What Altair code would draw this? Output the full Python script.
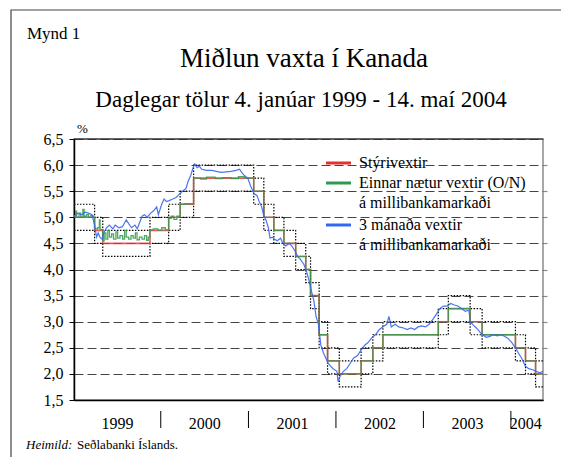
import altair as alt
import pandas as pd

FONT = "Liberation Serif"
W, H = 469, 261

# --- Policy rate (Stýrivextir): change dates and levels (step-after) ---
target_dates = ["1999-01-04", "1999-03-31", "1999-05-04", "1999-11-17", "2000-02-03",
                "2000-03-22", "2000-05-17", "2001-01-23", "2001-03-06", "2001-04-17",
                "2001-05-29", "2001-07-17", "2001-08-28", "2001-09-17", "2001-10-23",
                "2001-11-27", "2002-01-15", "2002-04-16", "2002-06-04", "2002-07-16",
                "2003-03-04", "2003-04-15", "2003-07-15", "2003-09-03", "2004-01-20",
                "2004-03-02", "2004-04-13", "2004-05-14"]
target_vals = [5.00, 4.75, 4.50, 4.75, 5.00, 5.25, 5.75, 5.50, 5.00, 4.75,
               4.50, 4.25, 4.00, 3.50, 2.75, 2.25, 2.00, 2.25, 2.50, 2.75,
               3.00, 3.25, 3.00, 2.75, 2.50, 2.25, 2.00, 2.00]
band_upper = [5.25, 5.00, 4.75, 5.00, 5.25, 5.50, 6.00, 5.75, 5.25, 5.00,
              4.75, 4.50, 4.25, 3.75, 3.00, 2.50, 2.25, 2.50, 2.75, 3.00,
              3.25, 3.50, 3.25, 3.00, 2.75, 2.50, 2.25, 2.25]
band_lower = [4.75, 4.50, 4.25, 4.50, 4.75, 5.00, 5.50, 5.25, 4.75, 4.50,
              4.25, 4.00, 3.75, 3.25, 2.50, 2.00, 1.75, 2.00, 2.25, 2.50,
              2.75, 3.00, 2.75, 2.50, 2.25, 2.00, 1.75, 1.75]

# --- Overnight rate (O/N) ---
on_dates = ["1999-01-04", "1999-01-11", "1999-01-15", "1999-01-25", "1999-02-01",
            "1999-02-10", "1999-02-15", "1999-02-25", "1999-03-05", "1999-03-15",
            "1999-03-25", "1999-03-31", "1999-04-12", "1999-04-20", "1999-04-23",
            "1999-05-04", "1999-05-10", "1999-05-17", "1999-05-25", "1999-06-01",
            "1999-06-10", "1999-06-18", "1999-06-28", "1999-07-05", "1999-07-15",
            "1999-07-26", "1999-08-03", "1999-08-10", "1999-08-20", "1999-08-30",
            "1999-09-08", "1999-09-17", "1999-09-24", "1999-10-04", "1999-10-15",
            "1999-10-25", "1999-11-03", "1999-11-10", "1999-11-17", "1999-12-01",
            "1999-12-20", "2000-01-05", "2000-01-20", "2000-02-03", "2000-02-14",
            "2000-02-25", "2000-03-08", "2000-03-22", "2000-04-10", "2000-05-17",
            "2000-06-15", "2000-07-10", "2000-08-15", "2000-09-15", "2000-10-20",
            "2000-11-20", "2000-12-15", "2001-01-23", "2001-03-06", "2001-04-17",
            "2001-05-29", "2001-07-17", "2001-08-28", "2001-09-17", "2001-10-23",
            "2001-11-27", "2002-01-15", "2002-04-16", "2002-06-04", "2002-07-16",
            "2003-03-04", "2003-04-15", "2003-07-15", "2003-09-03", "2004-01-20",
            "2004-03-02", "2004-04-13", "2004-05-14"]
on_vals = [5.03, 5.12, 5.00, 5.08, 5.00, 5.15, 5.02, 5.05, 5.00, 5.03,
           5.00, 4.78, 4.80, 4.95, 4.77, 4.55, 4.70, 4.58, 4.75, 4.62,
           4.68, 4.58, 4.72, 4.60, 4.65, 4.58, 4.75, 4.62, 4.58, 4.65,
           4.60, 4.70, 4.57, 4.62, 4.58, 4.65, 4.56, 4.62, 4.76, 4.78,
           4.75, 4.80, 4.76, 4.98, 5.02, 4.96, 5.02, 5.25, 5.26, 5.75,
           5.73, 5.77, 5.74, 5.76, 5.74, 5.78, 5.75, 5.50, 5.00, 4.75,
           4.50, 4.25, 4.00, 3.50, 2.75, 2.25, 2.00, 2.25, 2.50, 2.75,
           3.00, 3.25, 3.00, 2.75, 2.50, 2.25, 2.00, 2.00]

# --- 3-month interbank rate ---
m3_dates = ["1999-01-04", "1999-01-20", "1999-02-05", "1999-02-20", "1999-03-05",
            "1999-03-20", "1999-03-31", "1999-04-08", "1999-04-15", "1999-04-22",
            "1999-05-01", "1999-05-10", "1999-05-20", "1999-06-01", "1999-06-15",
            "1999-06-25", "1999-07-10", "1999-07-25", "1999-08-10", "1999-08-20",
            "1999-09-01", "1999-09-15", "1999-09-25", "1999-10-05", "1999-10-15",
            "1999-10-25", "1999-11-05", "1999-11-20", "1999-12-01", "1999-12-15",
            "1999-12-22", "2000-01-05", "2000-01-15", "2000-01-25", "2000-02-05",
            "2000-02-20", "2000-03-05", "2000-03-20", "2000-04-01", "2000-04-15",
            "2000-04-25", "2000-05-05", "2000-05-15", "2000-05-22", "2000-06-01",
            "2000-06-10", "2000-06-20", "2000-07-10", "2000-08-01", "2000-08-20",
            "2000-09-10", "2000-10-01", "2000-10-20", "2000-11-10", "2000-11-25",
            "2000-12-05", "2000-12-15", "2000-12-29", "2001-01-10", "2001-01-25",
            "2001-02-05", "2001-02-15", "2001-02-25", "2001-03-05", "2001-03-15",
            "2001-03-25", "2001-04-01", "2001-04-10", "2001-04-20", "2001-05-01",
            "2001-05-15", "2001-05-25", "2001-06-05", "2001-06-20", "2001-07-01",
            "2001-07-15", "2001-07-25", "2001-08-05", "2001-08-20", "2001-09-01",
            "2001-09-10", "2001-09-20", "2001-10-01", "2001-10-10", "2001-10-20",
            "2001-10-30", "2001-11-10", "2001-11-20", "2001-11-30", "2001-12-10",
            "2001-12-20", "2002-01-05", "2002-01-10", "2002-01-18", "2002-02-01",
            "2002-02-15", "2002-03-01", "2002-03-15", "2002-04-01", "2002-04-15",
            "2002-05-01", "2002-05-15", "2002-06-01", "2002-06-15", "2002-07-01",
            "2002-07-15", "2002-08-01", "2002-08-10", "2002-08-20", "2002-09-05",
            "2002-09-20", "2002-10-10", "2002-10-25", "2002-11-10", "2002-11-25",
            "2002-12-10", "2002-12-25", "2003-01-10", "2003-01-25", "2003-02-10",
            "2003-02-25", "2003-03-10", "2003-03-25", "2003-04-10", "2003-04-25",
            "2003-05-10", "2003-05-25", "2003-06-10", "2003-06-25", "2003-07-10",
            "2003-07-15", "2003-07-25", "2003-08-10", "2003-08-25", "2003-09-05",
            "2003-09-20", "2003-10-05", "2003-10-20", "2003-11-05", "2003-11-20",
            "2003-12-05", "2003-12-20", "2004-01-05", "2004-01-20", "2004-02-01",
            "2004-02-15", "2004-03-01", "2004-03-15", "2004-04-01", "2004-04-15",
            "2004-05-01", "2004-05-14"]
m3_vals = [5.02, 5.08, 5.05, 5.10, 5.08, 5.05, 4.85, 4.62, 4.70, 4.62,
           4.58, 4.72, 4.80, 4.85, 4.78, 4.85, 4.80, 4.82, 4.95, 4.88,
           4.80, 4.85, 4.78, 4.90, 5.02, 5.05, 5.00, 5.08, 5.12, 5.20,
           5.05, 5.25, 5.35, 5.30, 5.32, 5.35, 5.38, 5.45, 5.50, 5.55,
           5.70, 5.80, 5.95, 6.02, 5.95, 5.98, 5.92, 5.90, 5.90, 5.88,
           5.86, 5.87, 5.88, 5.90, 5.92, 5.85, 5.80, 5.75, 5.60, 5.45,
           5.42, 5.30, 5.20, 5.05, 4.95, 4.80, 4.60, 4.62, 4.58, 4.55,
           4.60, 4.50, 4.45, 4.50, 4.45, 4.35, 4.25, 4.20, 4.10, 3.95,
           3.80, 3.60, 3.40, 3.10, 2.95, 2.55, 2.40, 2.30, 2.20, 2.15,
           2.10, 2.05, 1.85, 1.95, 2.05, 2.10, 2.20, 2.30, 2.35, 2.45,
           2.55, 2.60, 2.70, 2.75, 2.85, 2.90, 2.95, 3.10, 2.90, 2.95,
           2.90, 2.88, 2.85, 2.88, 2.85, 2.90, 2.92, 2.90, 2.95, 3.05,
           3.15, 3.25, 3.30, 3.30, 3.35, 3.32, 3.30, 3.25, 3.20, 3.22,
           3.00, 2.95, 2.88, 2.80, 2.75, 2.70, 2.72, 2.75, 2.73, 2.75,
           2.72, 2.68, 2.60, 2.50, 2.40, 2.30, 2.15, 2.10, 2.08, 2.05,
           2.02, 2.05]

series_names = ["Stýrivextir", "Einnar nætur vextir (O/N)", "3 mánaða vextir"]
series_colors = ["#e8302f", "#2f9a4c", "#3466f2"]
legend_lines = [["Stýrivextir"],
                ["Einnar nætur vextir (O/N)", "á millibankamarkaði"],
                ["3 mánaða vextir", "á millibankamarkaði"]]

y_ticks = [1.5, 2.0, 2.5, 3.0, 3.5, 4.0, 4.5, 5.0, 5.5, 6.0, 6.5]
year_bounds = ["2000-01-01", "2001-01-01", "2002-01-01", "2003-01-01", "2004-01-01"]
year_label_pos = [alt.DateTime(year=1999, month=7, date=2), alt.DateTime(year=2000, month=7, date=1),
                  alt.DateTime(year=2001, month=7, date=2), alt.DateTime(year=2002, month=7, date=2),
                  alt.DateTime(year=2003, month=7, date=2), alt.DateTime(year=2004, month=3, date=1)]

title_text = "Miðlun vaxta í Kanada"
subtitle_text = "Daglegar tölur 4. janúar 1999 - 14. maí 2004"

# ---------------- data frames ----------------
target_df = pd.DataFrame({"date": target_dates, "v": target_vals, "series": series_names[0]})
on_df = pd.DataFrame({"date": on_dates, "v": on_vals, "series": series_names[1]})
m3_df = pd.DataFrame({"date": m3_dates, "v": m3_vals, "series": series_names[2]})
band_df = pd.DataFrame({"date": target_dates, "upper": band_upper, "lower": band_lower})

x_scale = alt.Scale(domain=[alt.DateTime(year=1999, month=1, date=4),
                            alt.DateTime(year=2004, month=5, date=14)])
y_scale = alt.Scale(domain=[1.5, 6.5], nice=False, zero=False)

x_axis = alt.Axis(values=year_label_pos, format="%Y", ticks=False, tickSize=0,
                  labelPadding=15, labelFontSize=16, labelFont=FONT, labelColor="black",
                  domainColor="black", domainWidth=1.5, grid=False, title=None,
                  labelFlush=False)
y_axis = alt.Axis(values=y_ticks, labelExpr="replace(format(datum.value, '.1f'), '.', ',')",
                  labelFontSize=16, labelFont=FONT, labelColor="black", tickSize=5, tickColor="black",
                  domainColor="black", domainWidth=1.5, grid=True, gridDash=[9, 4],
                  gridColor="#444", gridWidth=1, labelPadding=6, title=None)


def X(field="date:T"):
    return alt.X(field, scale=x_scale, axis=x_axis, title=None)


def Y(field):
    return alt.Y(field, scale=y_scale, axis=y_axis, title=None)


color = alt.Color("series:N", scale=alt.Scale(domain=series_names, range=series_colors), legend=None)

band_up = alt.Chart(band_df).mark_line(interpolate="step-after", color="black",
                                       strokeDash=[1.5, 1.5], strokeWidth=1.2).encode(x=X(), y=Y("upper:Q"))
band_lo = alt.Chart(band_df).mark_line(interpolate="step-after", color="black",
                                       strokeDash=[1.5, 1.5], strokeWidth=1.2).encode(x=X(), y=Y("lower:Q"))
red = alt.Chart(target_df).mark_line(interpolate="step-after", strokeWidth=1.6, opacity=0.8).encode(
    x=X(), y=Y("v:Q"), color=color)
green = alt.Chart(on_df).mark_line(interpolate="step-after", strokeWidth=1.3, opacity=0.85).encode(
    x=X(), y=Y("v:Q"), color=color)
blue = alt.Chart(m3_df).mark_line(strokeWidth=1.2, opacity=0.9).encode(
    x=X(), y=Y("v:Q"), color=color)

top_rule = alt.Chart(pd.DataFrame({"v": [6.5]})).mark_rule(color="#222", strokeWidth=1.2).encode(
    y=Y("v:Q"))

sep = alt.Chart(pd.DataFrame({"date": year_bounds})).mark_rule(color="black", strokeWidth=1).encode(
    x=X(), y=alt.value(H + 11), y2=alt.value(H + 28))


def txt(text, x, y, size, align="left", baseline="alphabetic", style="normal"):
    return alt.Chart(pd.DataFrame({"t": [text]})).mark_text(
        align=align, baseline=baseline, fontSize=size, font=FONT, color="black",
        fontStyle=style).encode(text="t:N", x=alt.value(x), y=alt.value(y))


annotations = [
    txt("Mynd 1", -47, -100, 17),
    txt(title_text, 230, -72, 27, align="center"),
    txt(subtitle_text, 227, -32, 23, align="center"),
    txt("%", 3, -10, 13, baseline="middle"),
    txt("Heimild:", -48, 306, 13, baseline="middle", style="italic"),
    txt("Seðlabanki Íslands.", 3, 306, 13, baseline="middle"),
]

# legend (manual, inside plot)
legend_layers = []
row_y = [24, 44, 86]
for lines, col, yy in zip(legend_lines, series_colors, row_y):
    legend_layers.append(
        alt.Chart(pd.DataFrame({"a": [0]})).mark_rule(color=col, strokeWidth=3).encode(
            x=alt.value(252), x2=alt.value(277), y=alt.value(yy)))
    for i, ln in enumerate(lines):
        legend_layers.append(txt(ln, 285, yy + 20 * i, 16, baseline="middle"))

frame = alt.Chart(pd.DataFrame({"a": [0]})).mark_rect(fill=None, stroke="#444", strokeWidth=1.2).encode(
    x=alt.value(-63), x2=alt.value(520), y=alt.value(-129), y2=alt.value(340))

main = alt.layer(
    band_up, band_lo, red, green, blue, top_rule, sep, frame, *annotations, *legend_layers
)

# right-hand border ticks (grey) at the grid levels
right_axis = alt.Chart(pd.DataFrame({"v": y_ticks})).mark_point(opacity=0).encode(
    y=alt.Y("v:Q", scale=y_scale, title=None,
            axis=alt.Axis(orient="right", values=y_ticks[1:-1], labels=False, ticks=True,
                          tickSize=4, tickColor="#8c8c8c", tickWidth=1.2, domain=False,
                          grid=False, title=None)))

chart = alt.layer(main, right_axis).resolve_scale(y="independent").properties(
    width=W, height=H,
    padding={"left": 66, "top": 131, "right": 18, "bottom": 57},
    autosize=alt.AutoSizeParams(type="none"),
).configure(font=FONT).configure_view(stroke="#8c8c8c", strokeWidth=1.5)

chart.save("out.html", embed_options={"renderer": "svg", "actions": False})
